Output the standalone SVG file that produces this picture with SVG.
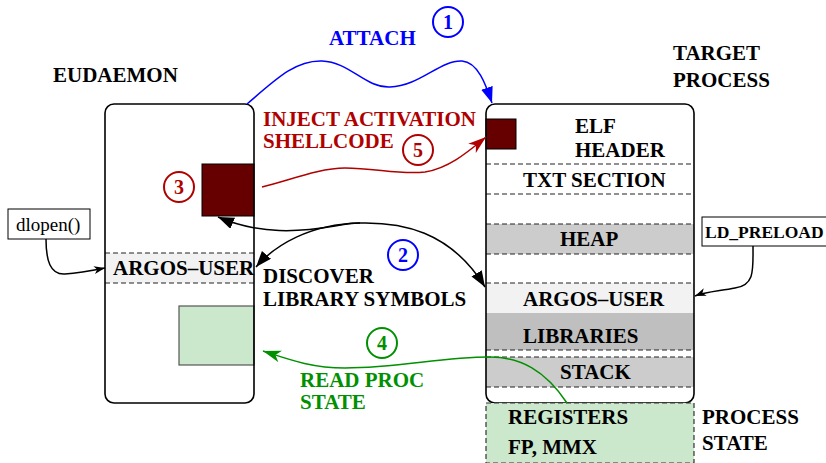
<svg xmlns="http://www.w3.org/2000/svg" width="826" height="463" viewBox="0 0 826 463">
<style>
text{font-family:"Liberation Serif","Times New Roman",serif;font-weight:bold;font-size:21px;fill:#000}
.blue{fill:#0000ff}.red{fill:#b00000}.green{fill:#009000}
.dash{stroke:#222;stroke-width:1.2;stroke-dasharray:5,3;fill:none}
.box{fill:none;stroke:#000;stroke-width:1.6}
.circ{fill:none;stroke-width:2}
.num{text-anchor:middle;font-size:20px}
.conn{fill:none;stroke-width:1.5}
</style>
<defs>
<marker id="ab" markerUnits="userSpaceOnUse" markerWidth="18" markerHeight="14" refX="16" refY="6" orient="auto-start-reverse"><path d="M0,0 L16,6 L0,12 Z" fill="#000"/></marker>
<marker id="abs" markerUnits="userSpaceOnUse" markerWidth="12" markerHeight="10" refX="11" refY="4" orient="auto"><path d="M0,0 L11,4 L0,8 L3,4 Z" fill="#000"/></marker>
<marker id="ablue" markerUnits="userSpaceOnUse" markerWidth="18" markerHeight="14" refX="16" refY="6" orient="auto"><path d="M0,0 L16,6 L0,12 Z" fill="#0000ff"/></marker>
<marker id="ared" markerUnits="userSpaceOnUse" markerWidth="20" markerHeight="14" refX="18" refY="6" orient="auto"><path d="M0,0 L18,6 L0,12 L5,6 Z" fill="#b00000"/></marker>
<marker id="agreen" markerUnits="userSpaceOnUse" markerWidth="20" markerHeight="14" refX="18" refY="6" orient="auto"><path d="M0,0 L18,6 L0,12 L5,6 Z" fill="#009000"/></marker>
</defs>

<g id="eudaemon">
<text x="53" y="82">EUDAEMON</text>
<rect x="105" y="253" width="149" height="30" fill="#f2f2f2"/>
<line class="dash" x1="105" y1="253" x2="254" y2="253"/>
<line class="dash" x1="105" y1="283" x2="254" y2="283"/>
<text x="113" y="275">ARGOS–USER</text>
<rect x="202" y="164" width="52" height="52" fill="#660000" stroke="#000" stroke-width="1"/>
<rect x="179" y="306" width="75" height="59" fill="#cce8cc" stroke="#555" stroke-width="1.2"/>
<rect class="box" x="105" y="104" width="149" height="299" rx="9"/>
</g>

<g id="target">
<text x="673" y="60">TARGET</text>
<text x="673" y="87">PROCESS</text>
<rect x="486" y="224" width="208" height="30" fill="#cccccc"/>
<rect x="486" y="283" width="208" height="30" fill="#f2f2f2"/>
<rect x="486" y="313" width="208" height="37" fill="#bfbfbf"/>
<rect x="486" y="357" width="208" height="30" fill="#cccccc"/>
<rect x="486" y="119" width="30" height="30" fill="#660000" stroke="#000" stroke-width="1"/>
<line class="dash" x1="486" y1="164" x2="694" y2="164"/>
<line class="dash" x1="486" y1="194" x2="694" y2="194"/>
<line class="dash" x1="486" y1="224" x2="694" y2="224"/>
<line class="dash" x1="486" y1="254" x2="694" y2="254"/>
<line class="dash" x1="486" y1="283" x2="694" y2="283"/>
<line class="dash" x1="486" y1="350" x2="694" y2="350"/>
<line class="dash" x1="486" y1="357" x2="694" y2="357"/>
<line class="dash" x1="486" y1="387" x2="694" y2="387"/>
<text x="575" y="133">ELF</text>
<text x="575" y="157">HEADER</text>
<text x="523" y="187">TXT SECTION</text>
<text x="560" y="246">HEAP</text>
<text x="523" y="306">ARGOS–USER</text>
<text x="523" y="343">LIBRARIES</text>
<text x="560" y="379">STACK</text>
<rect class="box" x="486" y="104" width="208" height="299" rx="9"/>
</g>

<g id="registers">
<rect x="486" y="403" width="208" height="60" fill="#cce8cc" stroke="#333" stroke-width="1.2" stroke-dasharray="5,3"/>
<text x="508" y="424">REGISTERS</text>
<text x="508" y="454">FP, MMX</text>
<text x="702" y="424">PROCESS</text>
<text x="702" y="450">STATE</text>
</g>

<g id="dlopen">
<rect x="8" y="209" width="82" height="30" fill="#fff" stroke="#000" stroke-width="1"/>
<text x="16" y="231" style="font-weight:normal;font-size:19px">dlopen()</text>
</g>

<g id="ldpreload">
<rect x="702" y="217" width="126" height="29" fill="#fff" stroke="#000" stroke-width="1"/>
<text x="705" y="238" style="font-size:17.5px">LD_PRELOAD</text>
</g>

<g id="labels">
<text class="blue" x="329" y="45">ATTACH</text>
<text class="red" x="263" y="126">INJECT ACTIVATION</text>
<text class="red" x="263" y="148">SHELLCODE</text>
<text x="263" y="283">DISCOVER</text>
<text x="263" y="306">LIBRARY SYMBOLS</text>
<text class="green" x="300" y="387">READ PROC</text>
<text class="green" x="300" y="409">STATE</text>
<circle class="circ" cx="448" cy="22" r="15" stroke="#0000ff"/><text class="num blue" x="448" y="29">1</text>
<circle class="circ" cx="403" cy="255" r="15" stroke="#0000ff"/><text class="num blue" x="403" y="262">2</text>
<circle class="circ" cx="179" cy="187" r="15" stroke="#b00000"/><text class="num red" x="179" y="194">3</text>
<circle class="circ" cx="382" cy="343" r="15" stroke="#009000"/><text class="num green" x="382" y="350">4</text>
<circle class="circ" cx="418" cy="150" r="15" stroke="#b00000"/><text class="num red" x="418" y="157">5</text>
</g>

<g id="connectors">
<path class="conn" stroke="#0000ff" marker-end="url(#ablue)" d="M247 104 C275 80,295 60,322 61 C350 62,365 88,390 87 C420 86,440 60,462 61 C478 62,486 85,492 103"/>
<path class="conn" stroke="#b00000" marker-end="url(#ared)" d="M262 187 C290 180,320 168,345 168 C375 168,400 175,425 172 C450 168,470 150,486 137"/>
<path class="conn" stroke="#000" marker-start="url(#ab)" marker-end="url(#ab)" d="M256 267 C275 245,310 224,360 223 C400 222,450 230,485 287"/>
<path class="conn" stroke="#000" marker-start="url(#ab)" d="M218 217 C260 235,300 232,335 226 C345 224,352 223,360 223"/>
<path class="conn" stroke="#009000" marker-end="url(#agreen)" d="M567 403 C545 370,520 357,490 357 C440 357,400 368,345 368 C310 368,285 358,263 351"/>
<path class="conn" stroke="#000" stroke-width="1" marker-end="url(#abs)" d="M46 239 C46 260,50 275,65 274 C80 273,95 270,105 268"/>
<path class="conn" stroke="#000" stroke-width="1" marker-end="url(#abs)" d="M753 246 C753 270,755 285,735 288 C720 291,705 292,695 296"/>
</g>
</svg>
